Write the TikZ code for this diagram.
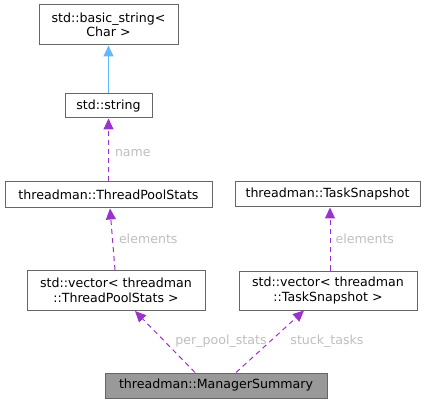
\documentclass[tikz,border=0pt]{standalone}
\usepackage{fontspec}
\setmainfont{DejaVu Sans}
\usetikzlibrary{arrows.meta}
\definecolor{edgepurple}{HTML}{9A32CD}
\definecolor{edgeblue}{HTML}{63B8FF}
\definecolor{labelgray}{HTML}{BEBEBE}
\definecolor{boxline}{HTML}{666666}
\begin{document}
\begin{tikzpicture}[x=1pt, y=-1pt,
		every node/.style = {font=\fontsize{12.6}{14.5}\selectfont, align=center, inner sep=0pt},
		box/.style = {draw=boxline, line width=1pt, fill=white},
		member/.style = {draw=edgepurple, line width=1pt, dash pattern=on 5pt off 4pt,
			-{Triangle[length=11pt, width=10pt]}},
		inherit/.style = {draw=edgeblue, line width=1pt, -{Triangle[length=11pt, width=10pt]}},
		edgelabel/.style = {text=labelgray}]
		\useasboundingbox (0,0) rectangle (432,404);
		
		\node[box, minimum width=139pt, minimum height=40pt] (bstr) at (108.5,25) {std::basic\_string<\\Char >};
		\node[box, minimum width=87pt, minimum height=24pt] (str) at (108.5,106) {std::string};
		\node[box, minimum width=207pt, minimum height=26pt] (tps) at (108.5,195) {threadman::ThreadPoolStats};
		\node[box, minimum width=185pt, minimum height=25pt] (ts) at (327.5,194.5) {threadman::TaskSnapshot};
		\node[box, minimum width=178pt, minimum height=40pt] (vtps) at (116,290.5) {std::vector< threadman\\::ThreadPoolStats >};
		\node[box, minimum width=178pt, minimum height=39pt] (vts) at (328,290.5) {std::vector< threadman\\::TaskSnapshot >};
		\node[box, fill=black!40, minimum width=222pt, minimum height=25pt] (ms) at (216,385.5) {threadman::ManagerSummary};
		
		\draw[inherit] (str) -- (bstr);
		\draw[member] (tps) -- (str) node[edgelabel, pos=0.45, right=6pt] {name};
		\draw[member] ([xshift=-1pt]vtps.north) -- ([xshift=1.5pt]tps.south) node[edgelabel, pos=0.5, right=6pt] {elements};
		\draw[member] ([xshift=2pt]vts.north) -- ([xshift=2.5pt]ts.south) node[edgelabel, pos=0.5, right=5pt] {elements};
		\draw[member] ([xshift=-21pt]ms.north) -- ([xshift=19pt]vtps.south);
		\draw[member] ([xshift=20pt]ms.north) -- ([xshift=-24pt]vts.south);
		\node[edgelabel] (lpool) at (221,341) {per\_pool\_stats};
		\node[edgelabel] (lstuck) at (327,341) {stuck\_tasks};
\end{tikzpicture}
\end{document}
